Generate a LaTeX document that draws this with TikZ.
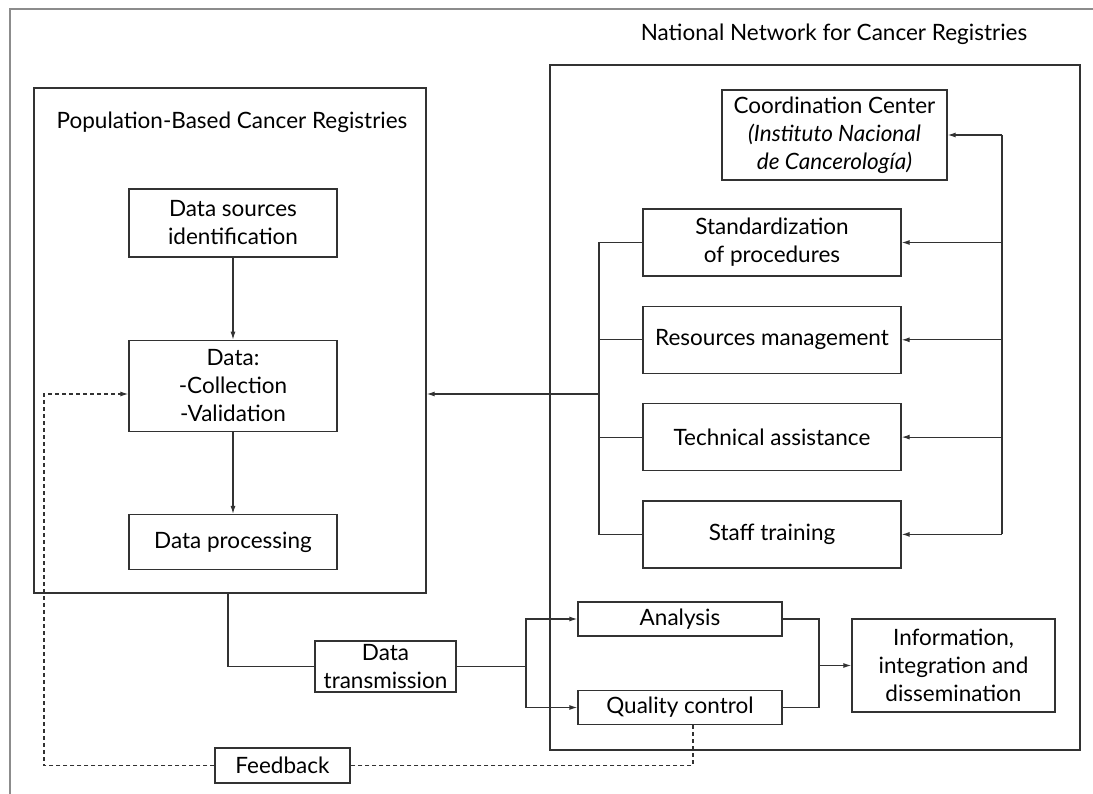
\documentclass[tikz,border=0pt]{standalone}
\usepackage{fontspec}
\newfontfamily\regfont{Lato}
\usepackage{tikz}
\usetikzlibrary{arrows.meta, positioning, calc}
\definecolor{boxgray}{RGB}{50, 50, 50}
\definecolor{framegray}{RGB}{140, 140, 140}
\tikzset{
  regbox/.style={draw=boxgray, line width=1.3pt, align=center, inner sep=2pt,
    font=\regfont\fontsize{22.5}{28}\selectfont},
  stepbox/.style={regbox, minimum width=208pt, minimum height=68pt},
  netbox/.style={regbox, minimum width=258pt, minimum height=67pt},
  outbox/.style={regbox, minimum width=204pt, minimum height=34pt},
  areabox/.style={draw=boxgray, line width=1.3pt, inner sep=0pt},
  areatitle/.style={font=\regfont\fontsize{22.5}{28}\selectfont, inner sep=0pt},
  link/.style={draw=boxgray, line width=1.2pt},
  arr/.style={link, -{Latex[length=8pt, width=5pt]}},
  fbline/.style={link, dash pattern=on 4pt off 3pt},
}
\begin{document}
\begin{tikzpicture}[x=1pt, y=-1pt, node distance=29pt]
  \useasboundingbox (0,0) rectangle (1093,794);
  % frame
  \draw[framegray, line width=2pt] (10,794) -- (10,9) -- (1093,9);

  % the two areas
  \node[areabox, minimum width=530pt, minimum height=685pt] (nncr) at (815,407.5) {};
  \node[areatitle] (nncrtitle) at (834,34) {National Network for Cancer Registries};
  \node[areabox, minimum width=392pt, minimum height=505pt] (pbcr) at (230,340.5) {};
  \node[areatitle] (pbcrtitle) at (232,122) {Population-Based Cancer Registries};

  % registry steps
  \node[stepbox] (srcid) at (233,223) {Data sources\\identification};
  \node[stepbox, minimum height=91pt, below=82pt of srcid] (collect) {Data:\\-Collection\\-Validation};
  \node[stepbox, minimum height=55pt, below=82pt of collect] (proc) {Data processing};
  \draw[arr] (srcid) -- (collect);
  \draw[arr] (collect) -- (proc);

  % network
  \node[regbox, minimum width=225pt, minimum height=90pt] (coord) at (834.5,135)
    {Coordination Center\\\textit{(Instituto Nacional}\\\textit{de Cancerología)}};
  \node[netbox] (std) at (772,242.5) {Standardization\\of procedures};
  \node[netbox, below=of std] (res) {Resources management};
  \node[netbox, below=of res] (tech) {Technical assistance};
  \node[netbox, below=of tech] (staff) {Staff training};

  \coordinate (rbus) at (1002,0);
  \coordinate (lbus) at (599,0);
  \draw[link] (rbus |- coord.east) -- (rbus |- staff.east);
  \foreach \n in {coord, std, res, tech, staff}
    \draw[arr] (rbus |- \n.east) -- (\n.east);
  \draw[link] (std.west) -| (lbus |- staff.west) -- (staff.west);
  \draw[link] (lbus |- res.west) -- (res.west);
  \draw[link] (lbus |- tech.west) -- (tech.west);
  \coordinate (tap) at (599,394);
  \draw[arr] (tap) -- (pbcr.east |- tap);

  % outputs
  \node[regbox, minimum width=141pt, minimum height=51pt, inner sep=1pt] (dt) at (385.5,666.5) {Data\\transmission};
  \node[outbox] (analysis) at (680,619) {Analysis};
  \node[outbox] (qc) at (680,707.5) {Quality control};
  \node[regbox, minimum width=203pt, minimum height=93pt] (info) at (953.5,665.5)
    {Information,\\integration and\\dissemination};
  \node[regbox, minimum width=135pt, minimum height=35pt] (feedback) at (282.5,765.5) {Feedback};

  \draw[link] ([xshift=-2pt]pbcr.south) |- (dt.west);
  \coordinate (split) at (526,666.5);
  \draw[link] (dt.east) -- (split);
  \draw[arr] (split) |- (analysis.west);
  \draw[arr] (split) |- (qc.west);
  \coordinate (merge) at (819,665.5);
  \draw[link] (analysis.east) -| (merge) |- (qc.east);
  \draw[arr] (merge) -- (info.west);

  % feedback loop
  \coordinate (fbturn) at (44,394);
  \draw[fbline] ([xshift=13pt]qc.south) |- (feedback.east);
  \draw[fbline, -{Latex[length=8pt, width=5pt]}] (feedback.west) -| (fbturn) -- (collect.west |- fbturn);
\end{tikzpicture}
\end{document}
